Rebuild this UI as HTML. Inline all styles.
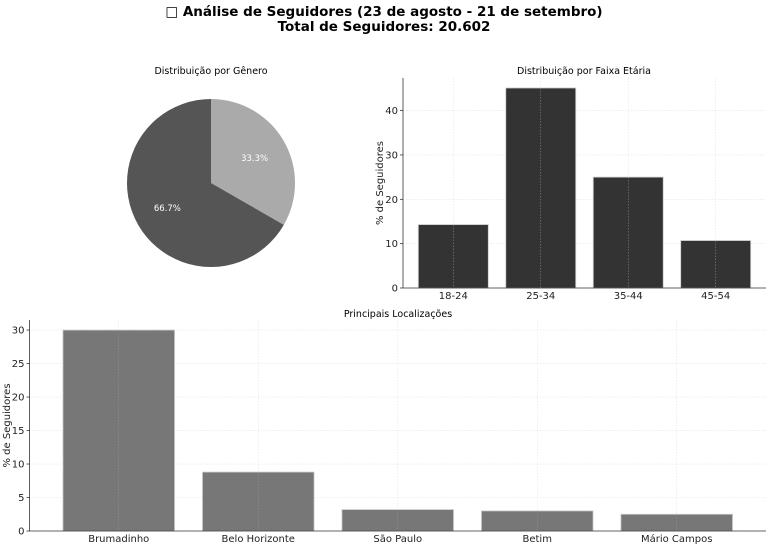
<!DOCTYPE html>
<html><head><meta charset="utf-8"><style>
body{margin:0;background:#fff;}
svg{display:block;font-family:"DejaVu Sans","Liberation Sans",sans-serif;}
</style></head><body>
<svg id="c" width="768" height="549" viewBox="0 0 768 549">
<text x="384" y="16" text-anchor="middle" font-size="13.5" font-weight="bold">□ Análise de Seguidores (23 de agosto - 21 de setembro)</text>
<text x="384" y="31" text-anchor="middle" font-size="13.5" font-weight="bold">Total de Seguidores: 20.602</text>
<text x="211" y="74" text-anchor="middle" font-size="9.5">Distribuição por Gênero</text>
<g id="pie"></g>
<text x="584" y="74" text-anchor="middle" font-size="9.5">Distribuição por Faixa Etária</text>
<g id="age"></g>
<text x="398" y="317" text-anchor="middle" font-size="9.5">Principais Localizações</text>
<g id="loc"></g>
</svg>
<script>
const genderLabels=['Feminino','Masculino'];
const genderValues=[33.3,66.7];
const ageCategories=['18-24','25-34','35-44','45-54'];
const ageValues=[14.3,45.1,25,10.7];
const ageTicks=[0,10,20,30,40];
const locCategories=['Brumadinho','Belo Horizonte','São Paulo','Betim','Mário Campos'];
const locValues=[30,8.8,3.2,3.0,2.5];
const locTicks=[0,5,10,15,20,25,30];
const NS='http://www.w3.org/2000/svg';
function mk(p,t,a){const e=document.createElementNS(NS,t);for(const k in a)e.setAttribute(k,a[k]);p.appendChild(e);return e;}

(function(){const g=document.getElementById('pie');const cx=211,cy=183,r=84;const cols=['#aaaaaa','#555555'];
const tot=genderValues.reduce((a,b)=>a+b,0);let a0=0;
genderValues.forEach((v,i)=>{const a1=a0+v/tot*2*Math.PI;
const x0=cx+r*Math.sin(a0),y0=cy-r*Math.cos(a0),x1=cx+r*Math.sin(a1),y1=cy-r*Math.cos(a1);
const p=mk(g,'path',{d:`M${cx},${cy}L${x0},${y0}A${r},${r} 0 ${a1-a0>Math.PI?1:0} 1 ${x1},${y1}Z`,fill:cols[i]});


const am=(a0+a1)/2;const t=mk(g,'text',{x:cx+0.6*r*Math.sin(am),y:cy-0.6*r*Math.cos(am)+3,'text-anchor':'middle','font-size':'8.5',fill:'#fff'});
t.textContent=v.toFixed(1)+'%';


a0=a1;});})();

function bars(gid,cats,vals,ticks,L,R,T,B,ymax,color,yl,ylx,pad){
const g=document.getElementById(gid);const n=cats.length;const lo=-pad,hi=n-1+pad;
const x=v=>L+(v-lo)/(hi-lo)*(R-L);const y=v=>B-v/ymax*(B-T);const bw=0.8*(R-L)/(hi-lo);
ticks.forEach(t=>{mk(g,'line',{x1:L,x2:R,y1:y(t),y2:y(t),stroke:'#e2e2e2','stroke-width':0.6,'stroke-dasharray':'1.5,1.5'});
mk(g,'line',{x1:L-3,x2:L,y1:y(t),y2:y(t),stroke:'#333','stroke-width':0.8});
const tx=mk(g,'text',{x:L-5,y:y(t)+3.5,'text-anchor':'end','font-size':'10',fill:'#222'});tx.textContent=t;

});
cats.forEach((c,i)=>{mk(g,'line',{x1:x(i),x2:x(i),y1:T,y2:B,stroke:'#e2e2e2','stroke-width':0.6,'stroke-dasharray':'1.5,1.5'});});
cats.forEach((c,i)=>{const b=mk(g,'rect',{x:x(i)-bw/2,y:y(vals[i]),width:bw,height:B-y(vals[i]),fill:color,stroke:'#ccc','stroke-width':0.8});


mk(g,'line',{x1:x(i),x2:x(i),y1:y(vals[i]),y2:B,stroke:'#999','stroke-width':0.5,'stroke-dasharray':'1.5,1.5'});
const t=mk(g,'text',{x:x(i),y:B+11,'text-anchor':'middle','font-size':'10',fill:'#222'});t.textContent=c;

});
mk(g,'line',{x1:L,x2:L,y1:T,y2:B,stroke:'#333','stroke-width':0.8});
mk(g,'line',{x1:L,x2:R,y1:B,y2:B,stroke:'#333','stroke-width':0.8});
const yt=mk(g,'text',{x:ylx,y:(T+B)/2,'text-anchor':'middle','font-size':'10',fill:'#222',transform:`rotate(-90 ${ylx} ${(T+B)/2})`});yt.textContent=yl;

}
bars('age',ageCategories,ageValues,ageTicks,403,766,78,288,47.35,'#333333','% de Seguidores',383,0.575);
bars('loc',locCategories,locValues,locTicks,29.5,766,320,531,31.5,'#777777','% de Seguidores',10,0.64);
</script>
</body></html>
